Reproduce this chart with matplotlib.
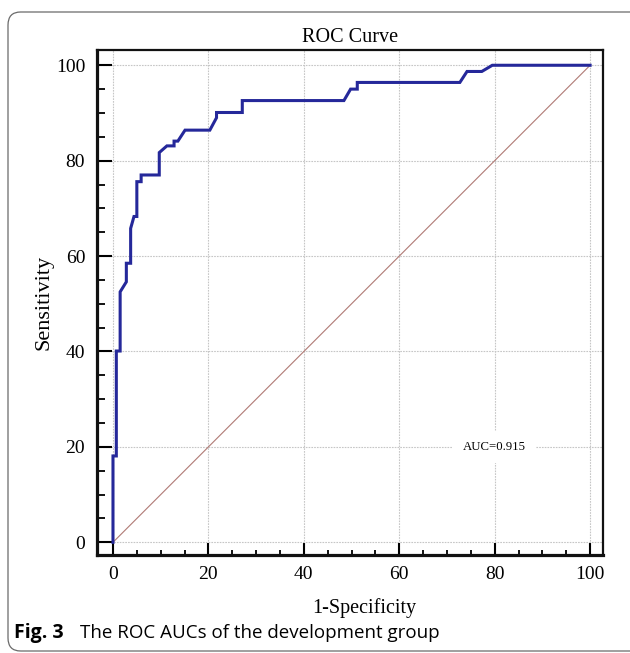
import matplotlib
matplotlib.use("Agg")
import matplotlib.pyplot as plt
from matplotlib.ticker import MultipleLocator
from matplotlib.patches import FancyBboxPatch

# ROC curve points (1-specificity %, sensitivity %)
fpr = [0, 0, 0.7, 0.7, 1.5, 1.5, 2.8, 2.8, 3.7, 3.7, 4.4, 5.0, 5.0, 5.9, 5.9,
       9.7, 9.7, 11.3, 12.8, 12.8, 13.6, 15.1, 20.3, 21.7, 21.7, 27.1, 27.1,
       48.4, 49.8, 51.2, 51.2, 72.7, 74.2, 77.3, 79.5, 100]
tpr = [0, 18.1, 18.1, 40.1, 40.1, 52.5, 54.6, 58.5, 58.5, 65.8, 68.3, 68.3, 75.6,
       75.6, 77.0, 77.0, 81.7, 83.1, 83.1, 84.1, 84.1, 86.4, 86.4, 89.0, 90.1,
       90.1, 92.6, 92.6, 95.0, 95.0, 96.4, 96.4, 98.7, 98.7, 100, 100]
auc = 0.915
ticks = [0, 20, 40, 60, 80, 100]

W, H = 630, 653
fig = plt.figure(figsize=(W / 100, H / 100), dpi=100)
ax = fig.add_axes([97 / W, 1 - 555 / H, 506 / W, 505 / H])

serif = ["Liberation Serif", "DejaVu Serif"]
sans = ["Open Sans", "DejaVu Sans"]

ax.plot([0, 100], [0, 100], color="#b07a75", lw=0.8, zorder=2)
ax.plot(fpr, tpr, color="#25289a", lw=2.2, solid_joinstyle="miter", zorder=3)

ax.set_xlim(-3.35, 102.7)
ax.set_ylim(-2.66, 103.2)
ax.set_xticks(ticks)
ax.set_yticks(ticks)
ax.xaxis.set_minor_locator(MultipleLocator(5))
ax.yaxis.set_minor_locator(MultipleLocator(5))
ax.grid(True, which="major", color="#c6c6c6", lw=0.8, linestyle=(0, (1.5, 1)), zorder=1)

ax.tick_params(axis="y", which="major", direction="in", length=11, width=1.5, pad=8.5,
               labelsize=14)
ax.tick_params(axis="y", which="minor", direction="in", length=5.8, width=1.3)
ax.tick_params(axis="x", which="major", direction="in", length=8.6, width=1.5, pad=8,
               labelsize=14)
ax.tick_params(axis="x", which="minor", direction="in", length=3.6, width=1.3)
for lab in ax.get_xticklabels() + ax.get_yticklabels():
    lab.set_family(serif)

for side, w in (("left", 2.3), ("bottom", 2.3), ("top", 1.6), ("right", 1.6)):
    ax.spines[side].set_linewidth(w)
    ax.spines[side].set_color("#111111")

ax.set_title("ROC Curve", family=serif, fontsize=14.5, pad=6)
ax.set_xlabel("1-Specificity", family=serif, fontsize=14.5)
ax.xaxis.set_label_coords(0.528, -0.085)
ax.set_ylabel("Sensitivity", family=serif, fontsize=16)
ax.yaxis.set_label_coords(-0.085, 0.5)

ax.text(80, 20, "AUC=%.3f" % auc, family=serif, fontsize=9.2, ha="center", va="center",
        bbox=dict(boxstyle="square,pad=0.8", fc="white", ec="none"), zorder=4)

# caption frame and text
frame = FancyBboxPatch((8 / W, 2 / H), 700 / W, (H - 14) / H,
                       boxstyle="round,pad=0,rounding_size=0.02",
                       transform=fig.transFigure, fill=False, ec="#6a6a6a", lw=0.9)
fig.patches.append(frame)
fig.text(14 / W, 1 - 633 / H, "Fig. 3", family=sans, fontsize=14, weight="bold",
         va="center")
fig.text(80 / W, 1 - 633 / H, "The ROC AUCs of the development group",
         family=sans, fontsize=13.5, va="center")

fig.savefig("out.png", dpi=100)
